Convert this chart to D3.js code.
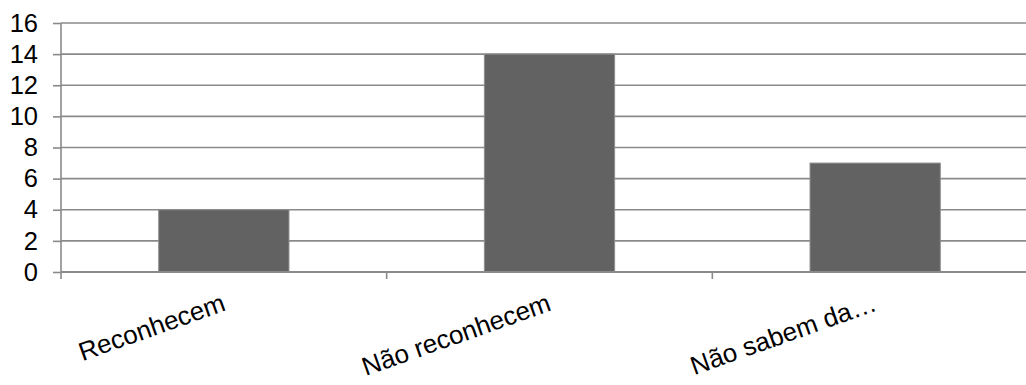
<!DOCTYPE html>
<html>
<head>
<meta charset="utf-8">
<script src="https://cdn.jsdelivr.net/npm/d3@7"></script>
<style>
  html, body { margin: 0; padding: 0; background: #fff; }
  svg { display: block; }
  text { font-family: "Liberation Sans", Arial, sans-serif; fill: #000; }
</style>
</head>
<body>
<svg id="chart" width="1026" height="385"></svg>
<script>
// Survey answers: how many respondents recognise the topic
const categories = ["Reconhecem", "Não reconhecem", "Não sabem da…"];
const values = [4, 14, 7];
const yTicks = [0, 2, 4, 6, 8, 10, 12, 14, 16];

const width = 1026, height = 385;
const margin = { top: 23, right: -12, bottom: 113, left: 61 };
const plotW = width - margin.left - margin.right;
const plotH = height - margin.top - margin.bottom;

const svg = d3.select("#chart");
const g = svg.append("g").attr("transform", `translate(${margin.left},${margin.top})`);

const x = d3.scaleBand()
  .domain(categories)
  .range([0, plotW])
  .paddingInner(0.6)
  .paddingOuter(0.3);

const y = d3.scaleLinear().domain([0, 16]).range([plotH, 0]);

const gridColor = "#8a8a8a";

// horizontal gridlines
g.selectAll("line.grid")
  .data(yTicks.filter(d => d > 0))
  .join("line")
  .attr("class", "grid")
  .attr("x1", 0).attr("x2", plotW)
  .attr("y1", d => y(d)).attr("y2", d => y(d))
  .attr("stroke", gridColor)
  .attr("stroke-width", 1.6);

// bars
g.selectAll("rect.bar")
  .data(values)
  .join("rect")
  .attr("class", "bar")
  .attr("x", (d, i) => x(categories[i]))
  .attr("width", x.bandwidth())
  .attr("y", d => y(d))
  .attr("height", d => plotH - y(d))
  .attr("fill", "#626262")
  .attr("stroke", "#8e8e8e")
  .attr("stroke-width", 1);

// y axis
const yAxis = g.append("g")
  .call(d3.axisLeft(y).tickValues(yTicks).tickSize(8).tickPadding(15).tickSizeOuter(0));
yAxis.select(".domain").remove();
yAxis.selectAll(".tick line").attr("stroke", gridColor).attr("stroke-width", 1.6);
yAxis.selectAll(".tick text")
  .attr("font-size", "25.5px")
  .attr("font-family", "Liberation Sans, Arial, sans-serif")
  .attr("fill", "#000");

g.append("line")
  .attr("x1", 0).attr("x2", 0)
  .attr("y1", y(16)).attr("y2", plotH + 7)
  .attr("stroke", gridColor).attr("stroke-width", 1.6);

// x axis baseline and category separators
g.append("line")
  .attr("x1", 0).attr("x2", plotW)
  .attr("y1", plotH).attr("y2", plotH)
  .attr("stroke", gridColor).attr("stroke-width", 1.8);

const step = x.step();
g.selectAll("line.sep")
  .data(d3.range(1, categories.length))
  .join("line")
  .attr("class", "sep")
  .attr("x1", d => d * step).attr("x2", d => d * step)
  .attr("y1", plotH).attr("y2", plotH + 7)
  .attr("stroke", gridColor).attr("stroke-width", 1.6);

// rotated category labels
g.selectAll("text.cat")
  .data(categories)
  .join("text")
  .attr("class", "cat")
  .attr("text-anchor", "end")
  .attr("font-size", "26px")
  .attr("transform", d => `translate(${x(d) + x.bandwidth() / 2 + 3},${plotH + 38}) rotate(-19.5)`)
  .text(d => d);
</script>
</body>
</html>
